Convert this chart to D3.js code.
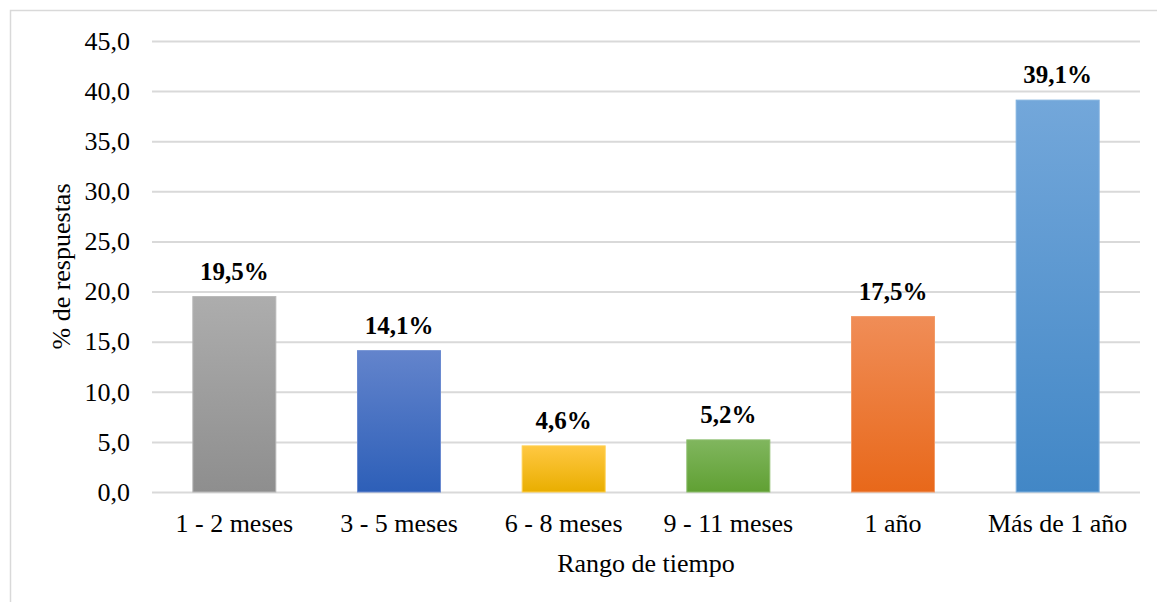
<!DOCTYPE html>
<html>
<head>
<meta charset="utf-8">
<script src="https://cdn.jsdelivr.net/npm/d3@7"></script>
<style>
  html, body { margin: 0; padding: 0; background: #fff; }
  svg { display: block; }
</style>
</head>
<body>
<svg id="chart" width="1157" height="602"></svg>
<script>
// Survey: time range vs. share of responses (%)
const categories = ["1 - 2 meses", "3 - 5 meses", "6 - 8 meses", "9 - 11 meses", "1 año", "Más de 1 año"];
const values = [19.5, 14.1, 4.6, 5.2, 17.5, 39.1];
const yTicks = [0, 5, 10, 15, 20, 25, 30, 35, 40, 45];
// top / bottom gradient stops for each bar
const colorTop = ["#adadad", "#6384cc", "#ffc842", "#80b65e", "#f08d57", "#73a7da"];
const colorBottom = ["#8e8e8e", "#2d5fb8", "#e9ae00", "#60a033", "#e8681a", "#4287c6"];
const colorEdge = ["#b8b8b8", "#6a8ad0", "#ffd04f", "#8cbd6c", "#f29a66", "#7fb0de"];

const FONT = "Liberation Serif";

const svg = d3.select("#chart");
const W = 1157, H = 602;
const margin = { left: 152, right: 17, top: 41, bottom: 110 };

const x = d3.scaleBand()
  .domain(categories)
  .range([margin.left, W - margin.right])
  .paddingInner(0.496)
  .paddingOuter(0.248);

const y = d3.scaleLinear()
  .domain([0, 45])
  .range([H - margin.bottom, margin.top]);

const fmt = v => d3.format(".1f")(v).replace(".", ",");

// chart frame
svg.append("rect")
  .attr("x", 10.5).attr("y", 10.5)
  .attr("width", W + 10).attr("height", H + 10)
  .attr("fill", "none")
  .attr("stroke", "#d9d9d9")
  .attr("stroke-width", 1.5);

// gradients
const defs = svg.append("defs");
categories.forEach((c, i) => {
  const g = defs.append("linearGradient")
    .attr("id", "grad" + i)
    .attr("x1", 0).attr("y1", 0).attr("x2", 0).attr("y2", 1);
  g.append("stop").attr("offset", "0%").attr("stop-color", colorTop[i]);
  g.append("stop").attr("offset", "100%").attr("stop-color", colorBottom[i]);
});

// gridlines + y tick labels
const yAxis = d3.axisLeft(y)
  .tickValues(yTicks)
  .tickSize(-(W - margin.left - margin.right))
  .tickPadding(22)
  .tickFormat(fmt);

const ya = svg.append("g")
  .attr("transform", `translate(${margin.left},0)`)
  .call(yAxis);
ya.select(".domain").remove();
ya.selectAll(".tick line")
  .attr("stroke", "#d9d9d9")
  .attr("stroke-width", 2);
ya.selectAll(".tick text")
  .attr("fill", "#000")
  .style("font-family", FONT)
  .style("font-size", "26px");

// bars
svg.append("g").selectAll("rect")
  .data(values)
  .join("rect")
  .attr("x", (d, i) => x(categories[i]))
  .attr("y", d => y(d))
  .attr("width", x.bandwidth())
  .attr("height", d => y(0) - y(d))
  .attr("fill", (d, i) => `url(#grad${i})`)
  .attr("stroke", (d, i) => colorEdge[i])
  .attr("stroke-width", 1);

// value labels
svg.append("g")
  .selectAll("text")
  .data(values)
  .join("text")
  .attr("x", (d, i) => x(categories[i]) + x.bandwidth() / 2)
  .attr("y", d => y(d) - 17)
  .attr("text-anchor", "middle")
  .style("font-family", FONT)
  .style("font-size", "25px")
  .style("font-weight", "bold")
  .text(d => fmt(d) + "%");

// x axis labels
const xAxis = d3.axisBottom(x).tickSize(0).tickPadding(22);
const xa = svg.append("g")
  .attr("transform", `translate(0,${y(0)})`)
  .call(xAxis);
xa.select(".domain").remove();
xa.selectAll(".tick text")
  .attr("fill", "#000")
  .style("font-family", FONT)
  .style("font-size", "26px");

// axis titles
svg.append("text")
  .attr("x", (margin.left + W - margin.right) / 2)
  .attr("y", 572)
  .attr("text-anchor", "middle")
  .style("font-family", FONT)
  .style("font-size", "26px")
  .text("Rango de tiempo");

svg.append("text")
  .attr("transform", `translate(70,${(y(0) + y(45)) / 2}) rotate(-90)`)
  .attr("text-anchor", "middle")
  .style("font-family", FONT)
  .style("font-size", "26px")
  .text("% de respuestas");
</script>
</body>
</html>
